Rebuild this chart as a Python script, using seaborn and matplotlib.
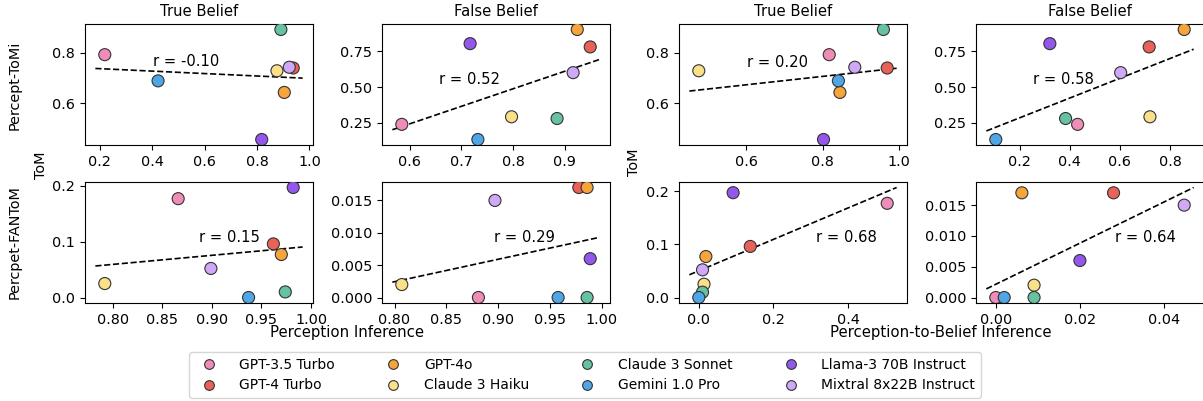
import numpy as np
import pandas as pd
import matplotlib
matplotlib.use("Agg")
import matplotlib.pyplot as plt
import seaborn as sns
from matplotlib.lines import Line2D
from matplotlib.ticker import MultipleLocator, FormatStrFormatter

models = ['GPT-3.5 Turbo', 'GPT-4 Turbo', 'GPT-4o', 'Claude 3 Haiku',
          'Claude 3 Sonnet', 'Gemini 1.0 Pro', 'Llama-3 70B Instruct', 'Mixtral 8x22B Instruct']
colors = ['#f08cb8', '#e8625a', '#f5a53c', '#fbe08a', '#66c2a0', '#4ea6e6', '#9457eb', '#cfa9f7']

# ToM accuracy (y)
tomi_tb = [0.793, 0.740, 0.643, 0.729, 0.893, 0.689, 0.456, 0.743]
tomi_fb = [0.239, 0.781, 0.903, 0.292, 0.280, 0.133, 0.804, 0.601]
fantom_tb = [0.177, 0.096, 0.077, 0.025, 0.010, 0.000, 0.197, 0.052]
fantom_fb = [0.000, 0.017, 0.017, 0.002, 0.000, 0.000, 0.006, 0.015]

# perception inference (x, left group)
perc_tomi_tb = [0.220, 0.938, 0.904, 0.876, 0.891, 0.423, 0.818, 0.923]
perc_tomi_fb = [0.585, 0.949, 0.924, 0.797, 0.885, 0.732, 0.717, 0.916]
perc_fantom_tb = [0.866, 0.962, 0.970, 0.792, 0.974, 0.937, 0.982, 0.899]
perc_fantom_fb = [0.881, 0.978, 0.986, 0.807, 0.986, 0.958, 0.989, 0.897]

# perception-to-belief inference (x, right group)
p2b_tomi_tb = [0.817, 0.969, 0.845, 0.475, 0.959, 0.841, 0.802, 0.884]
p2b_tomi_fb = [0.431, 0.717, 0.857, 0.720, 0.383, 0.104, 0.320, 0.603]
p2b_fantom_tb = [0.505, 0.138, 0.019, 0.014, 0.010, 0.000, 0.092, 0.010]
p2b_fantom_fb = [0.000, 0.028, 0.0062, 0.0091, 0.0091, 0.002, 0.020, 0.0448]

r_vals = [-0.10, 0.52, 0.20, 0.58, 0.15, 0.29, 0.68, 0.64]

panels = [
    (perc_tomi_tb, tomi_tb), (perc_tomi_fb, tomi_fb), (p2b_tomi_tb, tomi_tb), (p2b_tomi_fb, tomi_fb),
    (perc_fantom_tb, fantom_tb), (perc_fantom_fb, fantom_fb), (p2b_fantom_tb, fantom_tb), (p2b_fantom_fb, fantom_fb),
]
# r label placement (axes fraction) and tick steps (x, y) per panel
r_pos = [(0.30, 0.69), (0.25, 0.54), (0.30, 0.68), (0.25, 0.54),
         (0.50, 0.54), (0.49, 0.54), (0.60, 0.54), (0.61, 0.54)]
tick_steps = [(0.2, 0.2), (0.1, 0.25), (0.2, 0.2), (0.2, 0.25),
              (0.05, 0.1), (0.05, 0.005), (0.2, 0.1), (0.02, 0.005)]
ytick_fmt = ['%.1f', '%.2f', '%.1f', '%.2f', '%.1f', '%.3f', '%.1f', '%.3f']
xtick_fmt = ['%.1f', '%.1f', '%.1f', '%.1f', '%.2f', '%.2f', '%.1f', '%.2f']

W, H = 1203, 401
fig = plt.figure(figsize=(W / 100, H / 100), dpi=100)
FS = 10.4

col_left = [85, 382, 679, 976]
row_top = [24, 182]
aw, ah = 228, 121

palette = dict(zip(models, colors))
for i, (xv, yv) in enumerate(panels):
    r, c = divmod(i, 4)
    ax = fig.add_axes([col_left[c] / W, 1 - (row_top[r] + ah) / H, aw / W, ah / H])
    df = pd.DataFrame({'x': xv, 'y': yv, 'model': models})
    sns.scatterplot(data=df, x='x', y='y', hue='model', palette=palette, s=75,
                    edgecolor='#333333', linewidth=0.8, legend=False, zorder=3, ax=ax)
    # fitted line across the current x range
    slope, icpt = np.polyfit(df['x'], df['y'], 1)
    xs = np.linspace(*ax.get_xlim(), 50)
    ax.plot(xs, slope * xs + icpt, color='black', ls='--', lw=1.2, zorder=2)
    ax.text(r_pos[i][0], r_pos[i][1], f"r = {r_vals[i]:.2f}", transform=ax.transAxes,
            ha='left', va='center', fontsize=FS + 0.2)
    ax.xaxis.set_major_locator(MultipleLocator(tick_steps[i][0]))
    ax.yaxis.set_major_locator(MultipleLocator(tick_steps[i][1]))
    ax.xaxis.set_major_formatter(FormatStrFormatter(xtick_fmt[i]))
    ax.yaxis.set_major_formatter(FormatStrFormatter(ytick_fmt[i]))
    ax.set_xlabel('')
    ax.set_ylabel('')
    ax.tick_params(labelsize=FS)
    if r == 0:
        ax.set_title('True Belief' if c % 2 == 0 else 'False Belief', fontsize=FS + 0.2)

fig.text(15 / W, 1 - 85 / H, 'Percept-ToMi', rotation=90, ha='center', va='center', fontsize=FS)
fig.text(15 / W, 1 - 242 / H, 'Percpet-FANToM', rotation=90, ha='center', va='center', fontsize=FS)
fig.text(41 / W, 1 - 165 / H, 'ToM', rotation=90, ha='center', va='center', fontsize=FS)
fig.text(634 / W, 1 - 162 / H, 'ToM', rotation=90, ha='center', va='center', fontsize=FS)
fig.text(347 / W, 1 - 333 / H, 'Perception Inference', ha='center', va='center', fontsize=FS + 0.3)
fig.text(941 / W, 1 - 333 / H, 'Perception-to-Belief Inference', ha='center', va='center', fontsize=FS + 0.3)

handles = [Line2D([], [], marker='o', ls='', markerfacecolor=col, markeredgecolor='#333333',
                  markeredgewidth=0.8, markersize=7) for col in colors]
fig.legend(handles, models, loc='center', bbox_to_anchor=(585 / W, 1 - 375 / H), ncol=4,
           fontsize=10, frameon=True, columnspacing=3.2, handletextpad=1.2)

fig.savefig('out.png', dpi=100)
